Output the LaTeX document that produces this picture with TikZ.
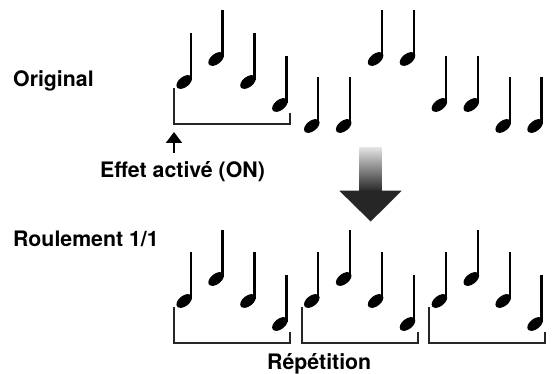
\documentclass[tikz,border=0pt]{standalone}
\usepackage{fontspec}
\setmainfont{TeX Gyre Heros}
\usetikzlibrary{arrows.meta}
\begin{document}
\begin{tikzpicture}[x=1pt,y=-1pt,
  lbl/.style={font=\fontsize{21.3}{24}\selectfont\bfseries, inner sep=0pt, anchor=base west},
  brk/.style={line width=2pt, draw=black!85},
  qnote/.pic={
    \draw[line width=2.3pt] (0,0) -- (0,47);
    \fill[rotate around={38:(-6.5,49)}] (-6.5,49) ellipse (9 and 5.2);
  }]
\useasboundingbox (0,0) rectangle (552,374);
% labels
\node[lbl] (orig) at (13,87) {Original};
\node[lbl] (roul) at (13,247) {Roulement 1/1};
\node[lbl] (effet) at (100,178) {Effet activé (ON)};
\node[lbl] (rep) at (267,369) {Répétition};
% original notes
\foreach \k/\t in {0/33,1/10,2/33,3/56,4/77,5/77,6/10,7/10,8/56,9/56,10/77,11/77}
  \pic at ({190.7+31.9*\k},\t) {qnote};
% rolled notes
\foreach \k/\t in {0/252,1/230,2/252,3/275,4/252,5/230,6/252,7/275,8/252,9/230,10/252,11/275}
  \pic at ({190.7+31.9*\k},\t) {qnote};
% brackets
\draw[brk] (174,88) -- (174,124) -- (290,124) -- (290,113);
\foreach \j in {0,1,2}
  \draw[brk] ({174+127.6*\j},307) -- ({174+127.6*\j},343) -- ({290+127.6*\j},343) -- ({290+127.6*\j},332);
% small arrow
\coordinate (on) at (174,132);
\coordinate (ontail) at (174,153);
\draw[line width=2pt, -{Triangle[length=11pt,width=16pt]}] (ontail) -- (on);
% big arrow
\shade[top color=black!12, bottom color=black!85] (359.3,148) rectangle (381.7,191.5);
\fill[black!85] (339.3,190.7) -- (401.7,190.7) -- (370.7,221.5) -- cycle;
\end{tikzpicture}
\end{document}
